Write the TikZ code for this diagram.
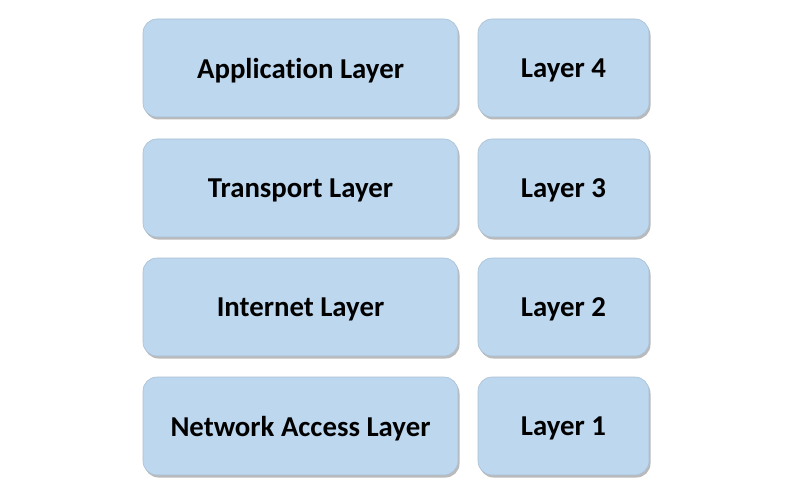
\documentclass[tikz,border=0pt]{standalone}
\usepackage{fontspec}
\setmainfont[Ligatures=NoCommon]{Carlito}
\usetikzlibrary{shadows}
\definecolor{boxfill}{HTML}{BDD7EE}
\definecolor{boxedge}{HTML}{A9BFD4}
\begin{document}
\begin{tikzpicture}[x=1pt,y=-1pt,
  layerbox/.style={draw=boxedge, line width=0.6pt, fill=boxfill, rounded corners=14pt,
    drop shadow={shadow xshift=1.5pt, shadow yshift=-2.5pt, opacity=0.45, fill=black!60},
    font=\fontsize{28.8}{32}\selectfont\bfseries, text=black, inner sep=0pt,
    text depth=0pt}]
\useasboundingbox (0,0) rectangle (800,500);
\foreach \i/\name/\num/\y in {a/Application Layer/4/19, t/Transport Layer/3/139, n/Internet Layer/2/258, k/Network Access Layer/1/377}{
  \node[layerbox, minimum width=315pt, minimum height=98pt] (L\i) at (300.5,\y+49) {\name};
  \node[layerbox, minimum width=171pt, minimum height=98pt] (R\i) at (563.5,\y+49) {Layer \num};
}
\end{tikzpicture}
\end{document}
